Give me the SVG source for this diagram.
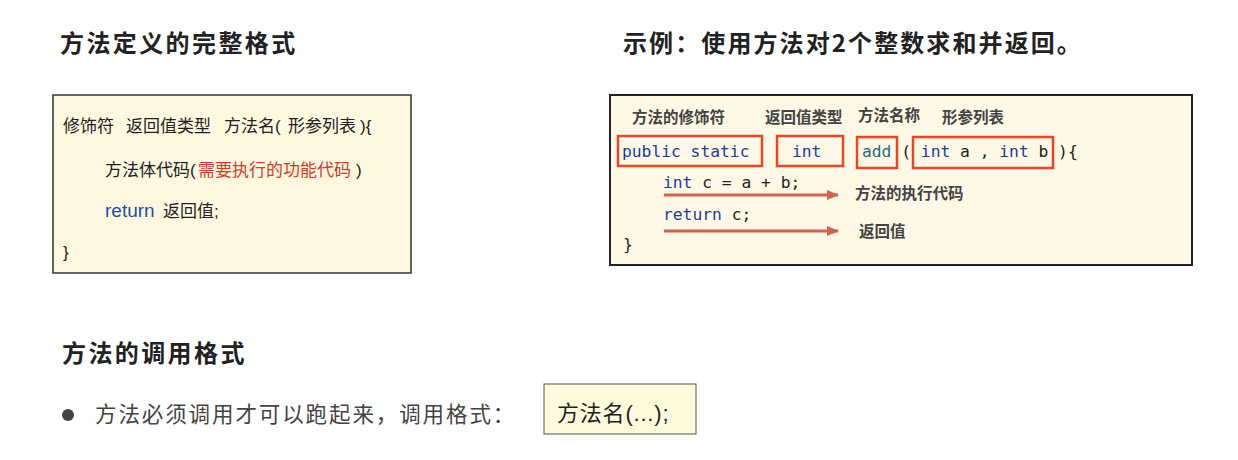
<svg xmlns="http://www.w3.org/2000/svg" width="1238" height="460" viewBox="0 0 1238 460">
<style>
.title{font-family:"Noto Sans CJK SC","Noto Sans",sans-serif;font-weight:bold;font-size:24px;fill:#222;letter-spacing:2.4px}
.body{font-family:"Liberation Sans","Noto Sans CJK SC",sans-serif;font-size:17px;fill:#222}
.lbl{font-family:"Noto Sans CJK SC",sans-serif;font-weight:bold;font-size:15.5px;fill:#444}
.code{font-family:"DejaVu Sans Mono","Liberation Mono",monospace;font-size:16.3px;fill:#222}
.kw{fill:#1e3c9c}
.fn{fill:#1d6b7a}
.red{fill:#d63a28}
.blue{fill:#1f4fa8}
.hl{fill:none;stroke:#ea4527;stroke-width:2.5}
.arrow{stroke:#d5604f;stroke-width:3;fill:none}
.note{font-family:"Noto Sans CJK SC",sans-serif;font-size:21.5px;fill:#444;letter-spacing:1.9px}
</style>
<defs>
<marker id="ah" markerWidth="12" markerHeight="10" refX="11" refY="5" orient="auto" markerUnits="userSpaceOnUse">
<path d="M0,0 L12,5 L0,10 Z" fill="#d5604f"/>
</marker>
</defs>
<rect width="1238" height="460" fill="#ffffff"/>

<g id="title-left"><text class="title" x="60" y="52">方法定义的完整格式</text></g>
<g id="title-right"><text class="title" x="623" y="52" style="letter-spacing:2.1px">示例：使用方法对2个整数求和并返回。</text></g>
<g id="title-bottom"><text class="title" x="62" y="362">方法的调用格式</text></g>

<g id="box-definition">
<rect x="53" y="95" width="358" height="178" fill="#fdf8df" stroke="#333" stroke-width="1.5"/>
<text class="body" y="132"><tspan x="63">修饰符</tspan><tspan x="126">返回值类型</tspan><tspan x="224">方法名(</tspan><tspan x="288">形参列表</tspan><tspan x="360">){</tspan></text>
<text class="body" y="176"><tspan x="105">方法体代码(</tspan><tspan x="198" class="red">需要执行的功能代码</tspan><tspan x="356">)</tspan></text>
<text class="body" y="217"><tspan x="105" class="blue" style="font-size:19px">return</tspan><tspan x="163">返回值;</tspan></text>
<text class="body" x="63" y="258">}</text>
</g>

<g id="box-example">
<rect x="610" y="95" width="582" height="170" fill="#fdf9e6" stroke="#222" stroke-width="2"/>
<text class="lbl" x="632" y="123">方法的修饰符</text>
<text class="lbl" x="765" y="123">返回值类型</text>
<text class="lbl" x="858" y="121">方法名称</text>
<text class="lbl" x="942" y="123">形参列表</text>
<rect class="hl" x="618" y="136" width="144" height="30"/>
<rect class="hl" x="777" y="136" width="66" height="30"/>
<rect class="hl" x="857" y="137" width="40" height="31"/>
<rect class="hl" x="913" y="137" width="140" height="31"/>
<text class="code kw" x="622" y="157">public static</text>
<text class="code kw" x="792" y="157">int</text>
<text class="code" x="862" y="157" xml:space="preserve"><tspan class="fn">add</tspan> ( <tspan class="kw">int</tspan> a , <tspan class="kw">int</tspan> b ){</text>
<text class="code" x="663" y="188" xml:space="preserve"><tspan class="kw">int</tspan> c = a + b;</text>
<text class="code" x="663" y="220" xml:space="preserve"><tspan class="kw">return</tspan> c;</text>
<text class="code" x="623" y="250">}</text>
<text class="lbl" x="855" y="199">方法的执行代码</text>
<text class="lbl" x="859" y="237">返回值</text>
</g>

<g id="connectors">
<line class="arrow" x1="664" y1="195" x2="838" y2="195" marker-end="url(#ah)"/>
<line class="arrow" x1="664" y1="231" x2="838" y2="231" marker-end="url(#ah)"/>
</g>

<g id="call-note">
<circle cx="68" cy="415" r="6" fill="#444"/>
<text class="note" x="95" y="422">方法必须调用才可以跑起来，调用格式：</text>
</g>

<g id="box-call">
<rect x="544" y="384" width="152" height="50" fill="#fefbdc" stroke="#555" stroke-width="1"/>
<text x="557" y="421" style="font-family:'Liberation Sans','Noto Sans CJK SC',sans-serif;font-size:22px;fill:#222;letter-spacing:0.8px">方法名(...);</text>
</g>
</svg>
